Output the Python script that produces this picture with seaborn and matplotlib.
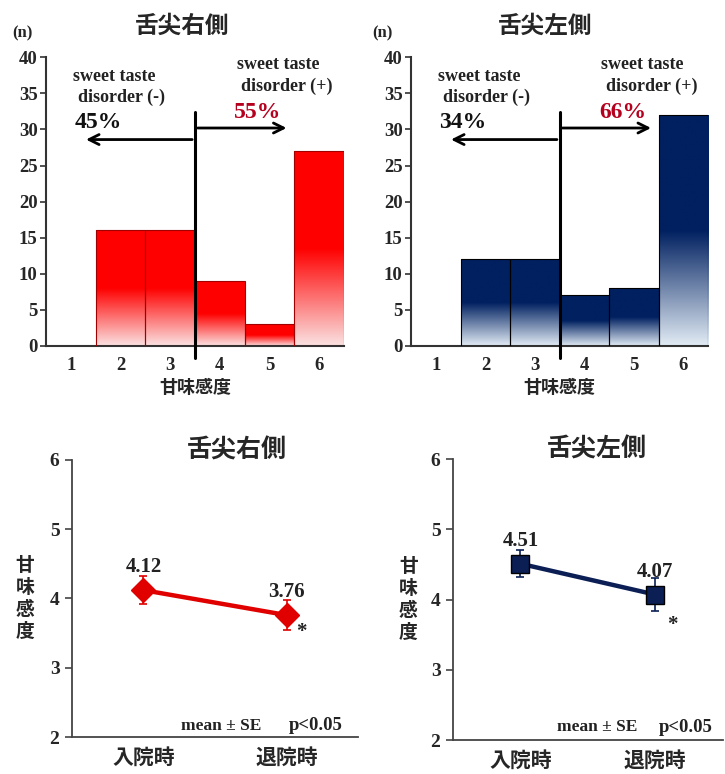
import numpy as np
import matplotlib
matplotlib.use('Agg')
import matplotlib.pyplot as plt
import seaborn as sns
from matplotlib.colors import to_rgba

# ---- data ----
scores = ['1', '2', '3', '4', '5', '6']
right_counts = [0, 16, 16, 9, 3, 27]
left_counts = [0, 12, 12, 7, 8, 32]
right_pct = ['45%', '55%']
left_pct = ['34%', '66%']
times = ['入院時', '退院時']
right_mean = [4.12, 3.76]
right_se = [0.20, 0.22]
left_mean = [4.51, 4.07]
left_se = [0.19, 0.23]
title_right = '舌尖右側'
title_left = '舌尖左側'
xlab_top = '甘味感度'
ylab_bottom = '甘\n味\n感\n度'
dis_neg = ['sweet taste', 'disorder (-)']
dis_pos = ['sweet taste', 'disorder (+)']

sns.set_theme(style='white')
plt.rcParams['font.family'] = ['Liberation Serif', 'Noto Sans CJK JP', 'DejaVu Sans']
plt.rcParams['font.weight'] = 'bold'
plt.rcParams['axes.titleweight'] = 'bold'
plt.rcParams['axes.labelweight'] = 'bold'

RED = '#ff0000'
RED_LIGHT = '#fbe2e2'
NAVY = '#002060'
NAVY_LIGHT = '#e2ecf5'
CJK = ['Noto Sans CJK JP', 'DejaVu Sans']

fig = plt.figure(figsize=(7.25, 7.74), dpi=100)


def grad_bars(ax, color, light, edge):
    c = np.array(to_rgba(color))
    l = np.array(to_rgba(light))
    t = np.linspace(0, 1, 256)
    frac = np.clip(t / 0.5, 0, 1)
    img = (l[None, :] * (1 - frac[:, None]) + c[None, :] * frac[:, None])[:, None, :]
    for p in list(ax.patches):
        h = p.get_height()
        if h <= 0:
            p.set_visible(False)
            continue
        x0, w = p.get_x(), p.get_width()
        im = ax.imshow(img, extent=[x0, x0 + w, 0, h], origin='lower',
                       aspect='auto', interpolation='bilinear', zorder=2)
        im.set_clip_path(p)
        p.set_facecolor('none')
        p.set_edgecolor(edge)
        p.set_linewidth(0.8)
        p.set_zorder(3)


def top_chart(rect, counts, color, light, edge, title, pcts, title_x, n_x):
    ax = fig.add_axes(rect)
    sns.barplot(x=scores, y=counts, order=scores, width=1.0, color=color,
                saturation=1, ax=ax)
    grad_bars(ax, color, light, edge)
    ax.set_xlim(-0.5, 5.5)
    ax.set_ylim(0, 40)
    ax.set_yticks(range(0, 41, 5))
    ax.set_xticks(np.arange(-0.5, 6, 1))
    ax.set_xticklabels([])
    ax.set_xticks(np.arange(0, 6), minor=True)
    ax.set_xticklabels(scores, minor=True)
    ax.tick_params(axis='x', which='major', length=5, width=1.2, color='#333333', direction='out')
    ax.tick_params(axis='x', which='minor', length=0, labelsize=13.5, pad=8)
    ax.tick_params(axis='y', length=4, width=1.2, color='#333333', direction='out',
                   labelsize=13.5, pad=2, left=True)
    for s in ['top', 'right']:
        ax.spines[s].set_visible(False)
    for s in ['left', 'bottom']:
        ax.spines[s].set_color('#333333')
        ax.spines[s].set_linewidth(1.5)
    ax.set_xlabel('')
    ax.set_ylabel('')
    ax.text(title_x, 1.11, title, transform=ax.transAxes, ha='center', va='center',
            fontsize=17, family=CJK, fontweight='bold')
    ax.text(n_x, 1.083, '(n)', transform=ax.transAxes, ha='center', va='center', fontsize=12)
    ax.text(0.5, -0.145, xlab_top, transform=ax.transAxes, ha='center', va='center',
            fontsize=13, family=CJK, fontweight='bold')
    # divider and arrows
    ax.plot([2.5, 2.5], [-1.6, 32.4], color='black', lw=2.2, clip_on=False, zorder=5)
    ax.annotate('', xy=(0.25, 28.6), xytext=(2.5, 28.6),
                arrowprops=dict(arrowstyle='->', color='black', lw=2, mutation_scale=18))
    ax.annotate('', xy=(4.4, 30.2), xytext=(2.5, 30.2),
                arrowprops=dict(arrowstyle='->', color='black', lw=2, mutation_scale=18))
    ax.text(0.88, 37.4, dis_neg[0], ha='center', va='center', fontsize=13, color='#222222')
    ax.text(1.03, 34.5, dis_neg[1], ha='center', va='center', fontsize=13, color='#222222')
    ax.text(0.55, 31.0, pcts[0], ha='center', va='center', fontsize=17, color='#111111')
    ax.text(4.17, 39.0, dis_pos[0], ha='center', va='center', fontsize=13, color='#222222')
    ax.text(4.35, 36.0, dis_pos[1], ha='center', va='center', fontsize=13, color='#222222')
    ax.text(3.77, 32.4, pcts[1], ha='center', va='center', fontsize=17, color='#b5001e')
    return ax


def bottom_chart(rect, means, se, color, marker, msize, mec, title, title_x,
                 star_off, mean_x, p_x, txt_y):
    ax = fig.add_axes(rect)
    sns.pointplot(x=times, y=means, order=times, color=color, markers=marker,
                  errorbar=None, ax=ax, markersize=msize, linewidth=3.2,
                  markeredgecolor=mec, markeredgewidth=1)
    ax.errorbar(np.arange(len(times)), means, yerr=se, fmt='none', ecolor=color,
                elinewidth=1.2, capsize=3, capthick=1.2, zorder=1)
    ax.set_xlim(-0.5, 1.5)
    ax.set_ylim(2, 6)
    ax.set_yticks(range(2, 7))
    ax.set_xticks([-0.5, 0.5, 1.5])
    ax.set_xticklabels([])
    ax.set_xticks([0, 1], minor=True)
    ax.set_xticklabels(times, minor=True, family=CJK, fontweight='bold')
    ax.tick_params(axis='x', which='major', length=5, width=1.2, color='#444444', direction='out')
    ax.tick_params(axis='x', which='minor', length=0, labelsize=15, pad=7)
    ax.tick_params(axis='y', length=5, width=1.2, color='#444444', direction='out',
                   labelsize=14, pad=4, left=True)
    for s in ['top', 'right']:
        ax.spines[s].set_visible(False)
    for s in ['left', 'bottom']:
        ax.spines[s].set_color('#444444')
        ax.spines[s].set_linewidth(1.3)
    ax.set_xlabel('')
    ax.set_ylabel('')
    ax.text(title_x, 1.035, title, transform=ax.transAxes, ha='center', va='center',
            fontsize=18, family=CJK, fontweight='bold')
    ax.text(-0.165, 0.5, ylab_bottom, transform=ax.transAxes, ha='center', va='center',
            fontsize=13.5, family=CJK, fontweight='bold', linespacing=1.2)
    for i, m in enumerate(means):
        ax.annotate(f'{m:.2f}', (i, m), xytext=(0, 16.5), textcoords='offset points',
                    ha='center', va='center', fontsize=15, color='#222222')
    ax.annotate('*', (1, means[1]), xytext=star_off, textcoords='offset points',
                ha='center', va='center', fontsize=15, color='#222222')
    ax.text(mean_x, txt_y, 'mean ± SE', transform=ax.transAxes, ha='center', va='center',
            fontsize=12.5, color='#222222')
    ax.text(p_x, txt_y, 'p<0.05', transform=ax.transAxes, ha='center', va='center',
            fontsize=13.5, color='#222222')
    return ax


top_chart([0.0634, 0.553, 0.411, 0.373], right_counts, RED, RED_LIGHT, '#a00000',
          title_right, right_pct, 0.456, -0.08)
top_chart([0.567, 0.553, 0.41, 0.373], left_counts, NAVY, NAVY_LIGHT, '#000000',
          title_left, left_pct, 0.45, -0.097)

bottom_chart([0.0993, 0.0478, 0.3945, 0.358], right_mean, right_se, '#e00000', 'D', 12,
             '#e00000', title_right, 0.577, (11, -12), 0.52, 0.853, 0.04)
bottom_chart([0.6248, 0.0439, 0.372, 0.363], left_mean, left_se, '#0b1f55', 's', 13,
             '#000000', title_left, 0.533, (12, -22), 0.533, 0.863, 0.045)

fig.savefig('out.png', dpi=100)
